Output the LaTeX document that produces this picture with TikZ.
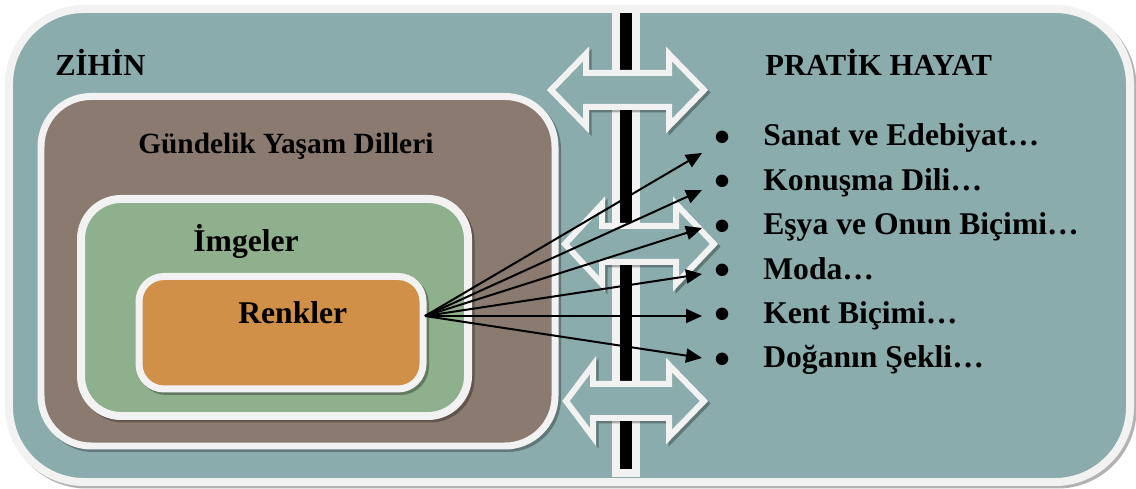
\documentclass[tikz,border=0pt]{standalone}
\usepackage{fontspec}
\setmainfont{Liberation Serif}
\usetikzlibrary{arrows.meta}
\definecolor{zemin}{HTML}{8AACAD}
\definecolor{kahve}{HTML}{8B7A70}
\definecolor{yesil}{HTML}{8EB08C}
\definecolor{portakal}{HTML}{D09048}
\definecolor{cerceve}{HTML}{F2F2F2}

\begin{document}
\begin{tikzpicture}[x=0.02cm,y=-0.02cm,
  kutu/.style={draw=cerceve,line width=#1,
    preaction={draw=black,opacity=0.3,line width=#1,transform canvas={shift={(0.05cm,-0.05cm)}}}},
  cift/.style={kutu=0.12cm,fill=zemin},
  yazi/.style={font=\fontsize{18pt}{21pt}\selectfont\bfseries,anchor=base west,inner sep=0pt},
  ok/.style={line width=0.04cm,-{Triangle[length=0.32cm,width=0.28cm]}}]
  \useasboundingbox (0,0) rectangle (1136,489);
  % nested boxes
  \draw[kutu=0.16cm,fill=zemin,rounded corners=1.5cm] (9,9) rectangle (1130,482);
  \draw[kutu=0.14cm,fill=kahve,rounded corners=1.0cm] (41,96.5) rectangle (555,446);
  \draw[kutu=0.16cm,fill=yesil,rounded corners=0.8cm] (81,199) rectangle (468,416);
  \draw[kutu=0.14cm,fill=portakal,rounded corners=0.5cm] (139,276.5) rectangle (423,389);
  % the wall in the middle
  \fill[cerceve] (612,10) rectangle (640,477);
  \fill[black] (620,13) rectangle (632,469);
  \foreach \cy/\l/\r/\bl/\br/\h/\s in {90/551/704/586/669/36/17,244/565/714/602/676/40/18,401/566/704/593/669/36/17}
    \draw[cift] (\l,\cy) -- ({\bl},{\cy-\h}) -- ({\bl},{\cy-\s}) -- ({\br},{\cy-\s}) -- ({\br},{\cy-\h})
      -- (\r,\cy) -- ({\br},{\cy+\h}) -- ({\br},{\cy+\s}) -- ({\bl},{\cy+\s}) -- ({\bl},{\cy+\h}) -- cycle;
  % labels
  \node[yazi,font=\fontsize{17.4pt}{21pt}\selectfont\bfseries] (zihin) at (55,76) {ZİHİN};
  \node[yazi,font=\fontsize{17.4pt}{21pt}\selectfont\bfseries] (pratik) at (765,76) {PRATİK HAYAT};
  \node[yazi,font=\fontsize{16.7pt}{21pt}\selectfont\bfseries] (gundelik) at (138,154) {Gündelik Yaşam Dilleri};
  \node[yazi] (imgeler) at (193,252) {İmgeler};
  \node[yazi] (renkler) at (238,324) {Renkler};
  % list on the right
  \foreach \madde [count=\i] in {Sanat ve Edebiyat…,Konuşma Dili…,Eşya ve Onun Biçimi…,Moda…,Kent Biçimi…,Doğanın Şekli…}
    \node[yazi] (m\i) at (714,{146+44.4*(\i-1)}) {\makebox[0.98cm][l]{\raisebox{-0.2em}{\scalebox{1.45}{•}}}\madde};
  % arrows from Renkler
  \coordinate (kaynak) at (425,316);
  \foreach \y [count=\i] in {153,190,228,274,316,358}
    \coordinate (u\i) at (702,\y);
  \foreach \i in {1,...,6}
    \draw[ok] (kaynak) -- (u\i);
\end{tikzpicture}
\end{document}
